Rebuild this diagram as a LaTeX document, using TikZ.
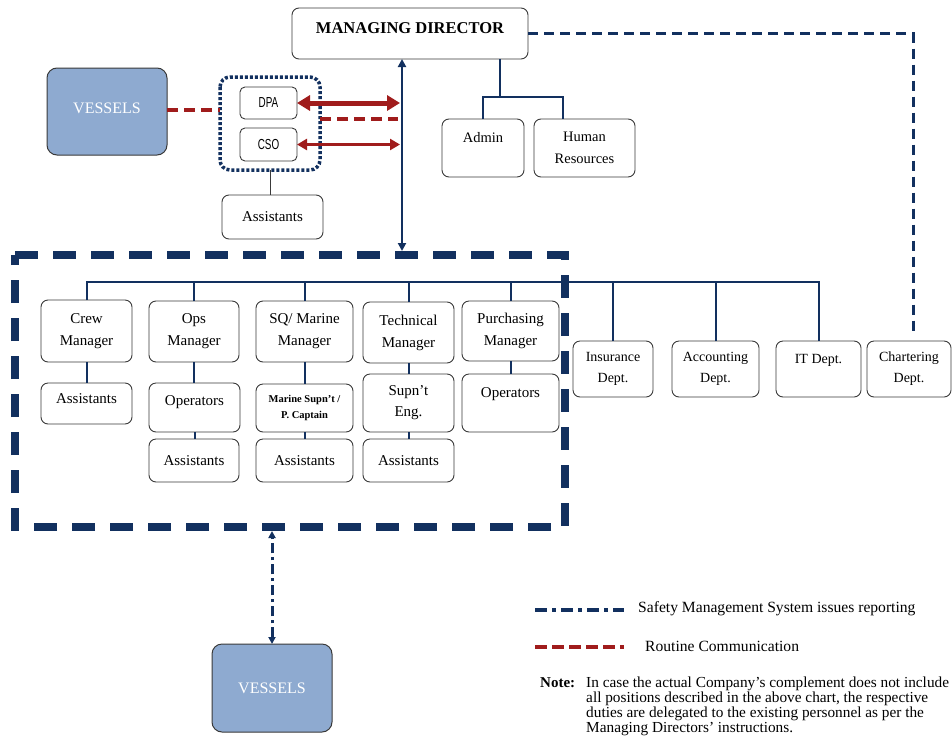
\documentclass[tikz,border=0pt]{standalone}
\usepackage{fontspec}
\setmainfont{Liberation Serif}
\setsansfont{Liberation Sans}
\newfontfamily\narrowsans[FakeStretch=0.68]{Liberation Sans}
\usetikzlibrary{arrows.meta}
\definecolor{navy}{HTML}{12305F}
\definecolor{dred}{HTML}{A01C1C}
\definecolor{vblue}{HTML}{8EAAD0}
\definecolor{bgray}{HTML}{3A3A3A}
\begin{document}
\begin{tikzpicture}[x=1pt,y=-1pt,
  box/.style={draw=bgray, line width=0.9pt, rounded corners=7pt, fill=white, inner sep=1pt, outer sep=0pt, align=center, font=\fontsize{15}{22}\selectfont},
  dept/.style={box, font=\fontsize{14}{21}\selectfont},
  small/.style={box, rounded corners=5pt, font=\narrowsans\fontsize{14.5}{16}\selectfont},
  vessel/.style={draw=bgray, line width=1pt, rounded corners=10pt, fill=vblue, text=white, inner sep=0pt, outer sep=0pt, font=\fontsize{16}{18}\selectfont},
  conn/.style={draw=navy, line width=2pt},
  mdarrow/.style={draw=navy, line width=2.5pt, {Triangle[length=8pt,width=8pt]}-{Triangle[length=8pt,width=8pt]}},
  redbig/.style={draw=dred, line width=5pt, {Triangle[length=13pt,width=15pt]}-{Triangle[length=13pt,width=15pt]}},
  redsmall/.style={draw=dred, line width=3pt, {Triangle[length=10pt,width=11pt]}-{Triangle[length=10pt,width=11pt]}},
  reddash/.style={draw=dred, line width=4pt, dash pattern=on 11pt off 6pt},
  navydash/.style={draw=navy, line width=3pt, dash pattern=on 10pt off 6pt},
  navydot/.style={draw=navy, line width=3.5pt, dash pattern=on 3pt off 2pt, rounded corners=10pt},
  bigdash/.style={draw=navy, line width=8pt, dash pattern=on 23pt off 15pt},
  dashdot/.style={draw=navy, line width=3.5pt, dash pattern=on 12pt off 5pt on 4pt off 5pt},
  vdashdot/.style={draw=navy, line width=3pt, dash pattern=on 10pt off 4pt on 3pt off 4pt, {Triangle[length=7pt,width=7pt]}-{Triangle[length=7pt,width=7pt]}},
  legtxt/.style={anchor=west, inner sep=0pt, font=\fontsize{15.6}{16}\selectfont},
  notetxt/.style={anchor=north west, inner sep=0pt, align=left, font=\fontsize{15.3}{15}\selectfont}
]
\useasboundingbox[fill=white] (0,0) rectangle (952,747);

% big dashed frame
\draw[bigdash] (15,255) -- (565,255) -- (565,527) -- (15,527) -- cycle;

% top level
\node[box, minimum width=236pt, minimum height=51pt, font=\bfseries\fontsize{16.5}{11}\selectfont] (md) at (410,33.5) {MANAGING DIRECTOR\\\mbox{}};
\node[vessel, minimum width=120pt, minimum height=87pt, font=\fontsize{16}{6}\selectfont, align=center] (v1) at (107,111.5) {VESSELS\\\mbox{}};
\draw[navydot] (220,77) rectangle (320,170);
\coordinate (grpw) at (220,110);
\coordinate (grpe) at (320,119);
\coordinate (grps) at (270,170);
\node[small, minimum width=57pt, minimum height=32pt] (dpa) at (268.5,103) {DPA};
\node[small, minimum width=57pt, minimum height=33pt] (cso) at (268.5,144.5) {CSO};
\node[box, minimum width=101pt, minimum height=44pt] (asst0) at (272.5,217) {Assistants};
\node[dept, minimum width=82pt, minimum height=58pt, font=\fontsize{14.5}{22}\selectfont] (admin) at (483,148) {Admin\\\mbox{}};
\node[dept, minimum width=101pt, minimum height=58pt, font=\fontsize{14.5}{22}\selectfont] (hr) at (584.5,148) {Human\\Resources};

% managers
\node[box, minimum width=91pt, minimum height=62pt] (crew) at (86.5,331) {Crew\\Manager};
\node[box, minimum width=90pt, minimum height=61pt] (ops) at (194,331.5) {Ops\\Manager};
\node[box, minimum width=97pt, minimum height=61pt] (sq) at (304.5,331.5) {SQ/ Marine\\Manager};
\node[box, minimum width=91pt, minimum height=61pt] (tech) at (408.5,332.5) {Technical\\Manager};
\node[box, minimum width=97pt, minimum height=60pt] (purch) at (510.5,331) {Purchasing\\Manager};

% second row
\node[box, minimum width=91pt, minimum height=41pt, font=\fontsize{15}{9}\selectfont] (crewa) at (86.5,403.5) {Assistants\\\mbox{}};
\node[box, minimum width=91pt, minimum height=49pt, font=\fontsize{15}{13}\selectfont] (opso) at (194.5,407.5) {Operators\\\mbox{}};
\node[box, minimum width=97pt, minimum height=48pt, font=\bfseries\fontsize{10.5}{16}\selectfont] (sqm) at (304.5,408) {Marine Supn't /\\P. Captain};
\node[box, minimum width=91pt, minimum height=58pt, font=\fontsize{15}{21}\selectfont] (techs) at (408.5,403) {Supn't\\Eng.};
\node[box, minimum width=97pt, minimum height=58pt, font=\fontsize{15}{21}\selectfont] (puro) at (510.5,403) {Operators\\\mbox{}};

% third row
\node[box, minimum width=90pt, minimum height=43pt] (opsa) at (194,460.5) {Assistants};
\node[box, minimum width=97pt, minimum height=43pt] (sqa) at (304.5,460.5) {Assistants};
\node[box, minimum width=91pt, minimum height=43pt] (techa) at (408.5,460.5) {Assistants};

% departments
\node[dept, minimum width=80pt, minimum height=56pt] (ins) at (613,369) {Insurance\\Dept.};
\node[dept, minimum width=87pt, minimum height=56pt] (acc) at (715.5,369) {Accounting\\Dept.};
\node[dept, minimum width=85pt, minimum height=56pt] (it) at (818.5,369) {IT Dept.\\\mbox{}};
\node[dept, minimum width=84pt, minimum height=56pt] (char) at (909,369) {Chartering\\Dept.};

% bottom vessels
\node[vessel, minimum width=120pt, minimum height=88pt] (v2) at (272,688) {VESSELS};

% tree connectors
\draw[conn] ([xshift=90pt]md.south) -- ++(0,38) coordinate (mdj);
\draw[conn] (admin.north) |- (mdj) -| ([xshift=-22pt]hr.north);
\coordinate (busy) at (0,282);
\draw[conn] (crew.north) -- (crew.north |- busy) -- (it.north |- busy) -- (it.north);
\foreach \n in {ops,sq,tech,purch,ins,acc}{
  \draw[conn] (\n.north) -- (\n.north |- busy);
}
\draw[conn] (crew.south) -- (crew.south |- crewa.north);
\draw[conn] (ops.south) -- (ops.south |- opso.north);
\draw[conn] (sq.south) -- (sq.south |- sqm.north);
\draw[conn] (tech.south) -- (tech.south |- techs.north);
\draw[conn] (purch.south) -- (purch.south |- puro.north);
\draw[conn] (opso.south) -- (opso.south |- opsa.north);
\draw[conn] (sqm.south) -- (sqm.south |- sqa.north);
\draw[conn] (techs.south) -- (techs.south |- techa.north);
\draw[draw=bgray, line width=1pt] (grps) -- (grps |- asst0.north);

% managing director arrow
\coordinate (mdx) at (402,0);
\coordinate (bigtop) at (0,251);
\draw[mdarrow] (mdx |- md.south) -- (mdx |- bigtop);

% red links
\draw[redbig] (dpa.east) -- ([xshift=-2pt]mdx |- dpa.east);
\draw[redsmall] (cso.east) -- ([xshift=-2pt]mdx |- cso.east);
\draw[reddash] (grpe) -- ([xshift=-4pt]mdx |- grpe);
\draw[reddash] (v1.east |- grpw) -- (grpw);

% chartering dashed link
\draw[navydash] (md.east) -| ([xshift=4pt,yshift=8pt]char.north);

% vessels SMS link
\coordinate (bigbot) at (0,531);
\draw[vdashdot] (v2.north) -- (v2.north |- bigbot);

% legend
\coordinate (l1a) at (535,610); \coordinate (l1b) at (624,610);
\coordinate (l2a) at (535,647); \coordinate (l2b) at (624,647);
\draw[dashdot] (l1a) -- (l1b);
\draw[reddash, dash pattern=on 12pt off 5pt] (l2a) -- (l2b);
\node[legtxt] (l1t) at (638,609) {Safety Management System issues reporting};
\node[legtxt] (l2t) at (645,646) {Routine Communication};
\node[notetxt, font=\bfseries\fontsize{15}{15}\selectfont] (notel) at (540,677) {Note:};
\node[notetxt] (note) at (586,677) {In case the actual Company's complement does not include\\all positions described in the above chart, the respective\\duties are delegated to the existing personnel as per the\\Managing Directors' instructions.};
\end{tikzpicture}
\end{document}
